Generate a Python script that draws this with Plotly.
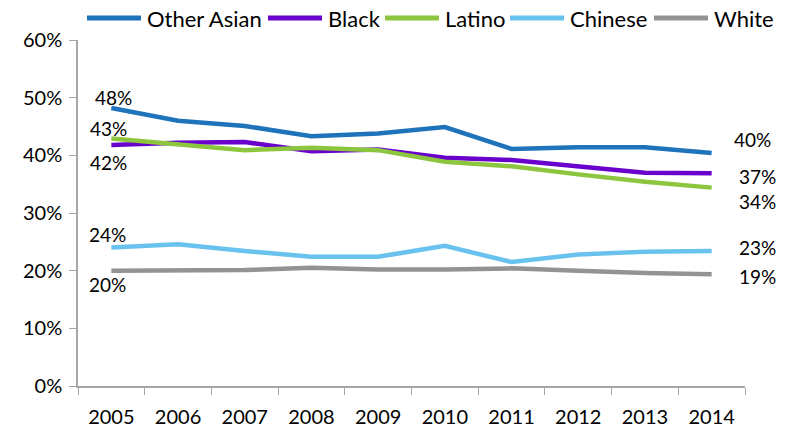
import plotly.graph_objects as go

years = ["2005", "2006", "2007", "2008", "2009", "2010", "2011", "2012", "2013", "2014"]
other_asian = [48.2, 46.0, 45.1, 43.3, 43.8, 44.9, 41.1, 41.4, 41.4, 40.4]
black = [41.8, 42.2, 42.3, 40.7, 41.0, 39.6, 39.2, 38.1, 37.0, 36.9]
latino = [42.9, 41.9, 40.9, 41.3, 40.9, 38.9, 38.1, 36.7, 35.4, 34.4]
chinese = [24.0, 24.6, 23.4, 22.4, 22.4, 24.3, 21.5, 22.8, 23.3, 23.4]
white = [20.0, 20.1, 20.1, 20.5, 20.2, 20.2, 20.4, 20.0, 19.6, 19.4]
series_names = ["Other Asian", "Black", "Latino", "Chinese", "White"]
y_ticks = [0, 10, 20, 30, 40, 50, 60]
y_tick_labels = ["0%", "10%", "20%", "30%", "40%", "50%", "60%"]

series = [other_asian, black, latino, chinese, white]
colors = ["#1F73BB", "#6A00CC", "#8CC63E", "#69C2EE", "#939393"]
# label offsets (xshift, yshift) for first and last points
first_shift = [(2, 11), (-3, -18), (-3, 10), (-4, 13), (-4, -14)]
last_shift = [(41, 14), (46, -3), (46, -14), (46, 4), (46, -2)]

# layout geometry (pixels)
W, H = 790, 429
ML, MR, MT, MB = 78, 45, 40, 43
PW, PH = W - ML - MR, H - MT - MB


def px_x(px):
    return (px - ML) / PW


def px_y(py):
    return (H - MB - py) / PH


# custom legend: text start pixel positions, line length
legend_text_x = [145, 326, 443, 568, 712]
legend_line_len = 54
legend_gap = 4
legend_y = 18

FONT = "Lato, Calibri, sans-serif"
fig = go.Figure()
for name, vals, c in zip(series_names, series, colors):
    fig.add_trace(go.Scatter(x=years, y=vals, name=name, mode="lines",
                             line=dict(color=c, width=4.5), showlegend=False))

ann = []
shapes = []
last = len(years) - 1
for i, vals in enumerate(series):
    ann.append(dict(x=0, y=vals[0], xref="x", yref="y", text=f"{round(vals[0])}%",
                    showarrow=False, xshift=first_shift[i][0], yshift=first_shift[i][1],
                    font=dict(family=FONT, size=19, color="#000")))
    ann.append(dict(x=last, y=vals[-1], xref="x", yref="y", text=f"{round(vals[-1])}%",
                    showarrow=False, xshift=last_shift[i][0], yshift=last_shift[i][1],
                    font=dict(family=FONT, size=19, color="#000")))
    tx = legend_text_x[i]
    shapes.append(dict(type="line", xref="paper", yref="paper",
                       x0=px_x(tx - legend_gap - legend_line_len), x1=px_x(tx - legend_gap),
                       y0=px_y(legend_y), y1=px_y(legend_y),
                       line=dict(color=colors[i], width=5)))
    ann.append(dict(x=px_x(tx), y=px_y(legend_y), xref="paper", yref="paper",
                    text=series_names[i], showarrow=False, xanchor="left", yanchor="middle",
                    font=dict(family=FONT, size=22, color="#000")))

fig.update_layout(
    width=W, height=H,
    margin=dict(l=ML, r=MR, t=MT, b=MB, autoexpand=False),
    paper_bgcolor="white", plot_bgcolor="white",
    font=dict(family=FONT, size=20, color="#000"),
    showlegend=False,
    annotations=ann,
    shapes=shapes,
)
fig.update_xaxes(type="category", range=[-0.5, last + 0.5], showline=True,
                 linecolor="#A6A6A6", linewidth=1.5, automargin=False,
                 ticks="outside", tickson="boundaries", ticklen=7, tickcolor="#A6A6A6",
                 showgrid=False, tickfont=dict(family=FONT, size=20), ticklabelstandoff=12)
fig.update_yaxes(range=[0, 60], tickvals=y_ticks, ticktext=y_tick_labels,
                 showline=True, linecolor="#A6A6A6", linewidth=1.5, automargin=False,
                 ticks="outside", ticklen=7, tickcolor="#A6A6A6", showgrid=False,
                 zeroline=False, tickfont=dict(family=FONT, size=20), ticklabelstandoff=3)

fig.write_html("out.html")
